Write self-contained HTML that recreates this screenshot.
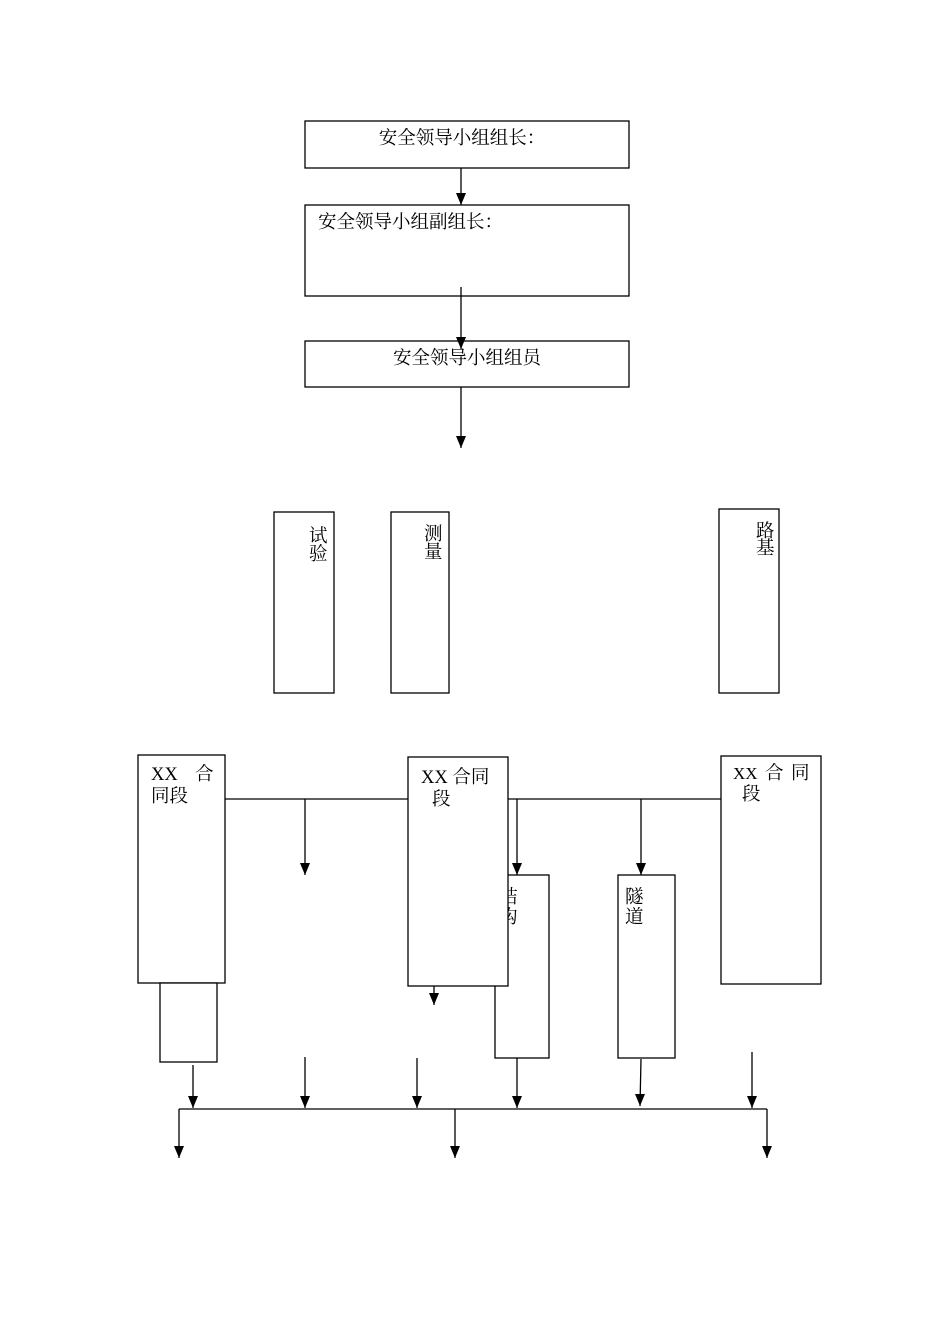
<!DOCTYPE html>
<html><head><meta charset="utf-8"><style>
html,body{margin:0;padding:0;background:#fff;}
svg{display:block;}
text{font-family:"Liberation Serif","Noto Serif CJK SC","Noto Sans CJK SC",serif;font-size:18.5px;fill:#000;}
</style></head><body>
<svg width="950" height="1344" viewBox="0 0 950 1344" xmlns="http://www.w3.org/2000/svg">
<defs>
<marker id="d" viewBox="0 0 10 12" markerWidth="10" markerHeight="12" refX="5" refY="12" orient="0" markerUnits="userSpaceOnUse"><path d="M0,0 L10,0 L5,12 Z" fill="#000"/></marker></defs>
<g fill="#fff" stroke="#000" stroke-width="1.3">
<rect x="305" y="121" width="324" height="47"/>
<rect x="305" y="205" width="324" height="91"/>
<rect x="305" y="341" width="324" height="46"/>
<rect x="274" y="512" width="60" height="181"/>
<rect x="391" y="512" width="58" height="181"/>
<rect x="719" y="509" width="60" height="184"/>
<rect x="138" y="755" width="87" height="228"/>
<rect x="160" y="983" width="57" height="79"/>
<rect x="495" y="875" width="54" height="183"/>
<rect x="618" y="875" width="57" height="183"/>
</g>
<text x="499" y="903">结</text><text x="499" y="923">构</text>
<g fill="#fff" stroke="#000" stroke-width="1.3">
<rect x="408" y="757" width="100" height="229"/>
<rect x="721" y="756" width="100" height="228"/>
</g>
<g stroke="#000" stroke-width="1.3" fill="none">
<line x1="225" y1="799" x2="408" y2="799"/>
<line x1="508" y1="799" x2="721" y2="799"/>
<line x1="179" y1="1109" x2="767" y2="1109"/>
</g>
<g stroke="#000" stroke-width="1.3" marker-end="url(#d)">
<line x1="461" y1="168" x2="461" y2="205"/>
<line x1="461" y1="287" x2="461" y2="349"/>
<line x1="461" y1="387" x2="461" y2="448"/>
<line x1="305" y1="799" x2="305" y2="875"/>
<line x1="517" y1="799" x2="517" y2="875"/>
<line x1="641" y1="799" x2="641" y2="875"/>
<line x1="434" y1="986" x2="434" y2="1005"/>
<line x1="193" y1="1065" x2="193" y2="1108"/>
<line x1="305" y1="1057" x2="305" y2="1108"/>
<line x1="417" y1="1058" x2="417" y2="1108"/>
<line x1="517" y1="1058" x2="517" y2="1108"/>
<line x1="641" y1="1059" x2="640" y2="1106"/>
<line x1="752" y1="1052" x2="752" y2="1108"/>
<line x1="179" y1="1109" x2="179" y2="1158"/>
<line x1="455" y1="1109" x2="455" y2="1158"/>
<line x1="767" y1="1109" x2="767" y2="1158"/>
</g>
<text x="462" y="144" text-anchor="middle">安全领导小组组长：</text>
<text x="318" y="228">安全领导小组副组长：</text>
<text x="467" y="364" text-anchor="middle">安全领导小组组员</text>
<text x="309" y="542">试</text><text x="309" y="560">验</text>
<text x="424" y="540">测</text><text x="424" y="558">量</text>
<text x="756" y="537">路</text><text x="756" y="554">基</text>
<text x="151" y="780">XX</text><text x="195" y="780">合</text>
<text x="151" y="802">同段</text>
<text x="421" y="783">XX 合同</text>
<text x="432" y="805">段</text>
<text x="733" y="779" style="font-size:17px">XX</text><text x="765" y="779">合</text><text x="791" y="779">同</text>
<text x="742" y="800">段</text>
<text x="625" y="903">隧</text><text x="625" y="923">道</text>
</svg>
</body></html>
